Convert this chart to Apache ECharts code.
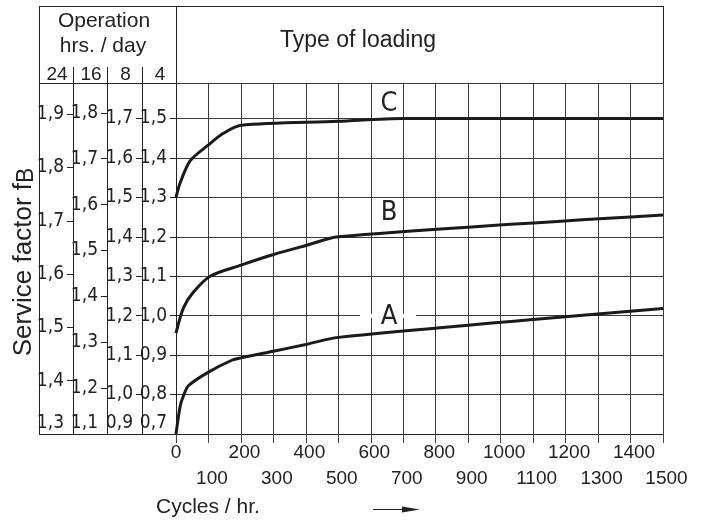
<!DOCTYPE html>
<html><head><meta charset="utf-8">
<script src="https://cdn.jsdelivr.net/npm/echarts@6/dist/echarts.min.js"></script>
<style>html,body{margin:0;padding:0;background:#fff}#c{width:704px;height:523px}</style>
</head><body><div id="c"></div>
<script>
// ---- data ----
const hoursPerDay = ['24', '16', '8', '4'];
const scaleMin = [1.3, 1.1, 0.9, 0.7];          // bottom value of each service-factor column
const scaleMax = [1.9585, 1.865, 1.79, 1.59];   // value at the top edge of the grid
const scaleStep = 0.1;
const cyclesMin = 0, cyclesMax = 1500, cyclesStep = 100;
const loadTypes = ['A', 'B', 'C'];
const curveA = [[0,0.70],[13,0.771],[23,0.797],[39,0.823],[100,0.857],[172,0.887],[200,0.893],[300,0.910],[400,0.927],[500,0.945],[1500,1.018]];
const curveB = [[0,0.956],[23,1.02],[52,1.058],[105,1.10],[200,1.128],[300,1.155],[400,1.178],[500,1.20],[1500,1.255]];
const curveC = [[0,1.30],[13,1.337],[44,1.393],[100,1.433],[147,1.463],[200,1.483],[500,1.493],[700,1.50],[1500,1.50]];
const curves = [curveA, curveB, curveC];

// ---- styles ----
const NARROW = "'Liberation Sans Narrow','DejaVu Sans Condensed','Liberation Sans',sans-serif";
const SANS = "'Liberation Sans',Arial,sans-serif";
const INK = '#222';
const GRIDC = '#3a3a3a';
const L = 176, R = 663, T = 83, B = 434, BOXL = 39, BOXT = 6;
const colOffsets = [103, 69, 34, 0];

const chart = echarts.init(document.getElementById('c'), null, {renderer: 'canvas'});

function colAxis(i) {
  return {
    type: 'value', position: 'left', offset: colOffsets[i],
    min: scaleMin[i], max: scaleMax[i], interval: scaleStep,
    axisLine: {show: true, onZero: false, lineStyle: {color: INK, width: 1}},
    axisTick: {show: true, length: 6, lineStyle: {color: INK, width: 1}},
    splitLine: {show: i === 3, lineStyle: {color: GRIDC, width: 1}},
    axisLabel: {
      margin: 9, showMinLabel: true, showMaxLabel: false, color: INK,
      fontFamily: NARROW, fontSize: 19,
      formatter: function (v) {
        const s = v.toFixed(1).replace('.', ',');
        return Math.abs(v - scaleMin[i]) < 1e-6 ? '{b|' + s + '}' : s;
      },
      rich: {b: {padding: [0, 0, 22, 0], fontFamily: NARROW, fontSize: 19, color: INK}}
    }
  };
}

const option = {
  animation: false,
  backgroundColor: '#fff',
  grid: {left: L, right: 704 - R, top: T, bottom: 523 - B, containLabel: false},
  xAxis: {
    type: 'value', min: cyclesMin, max: cyclesMax, interval: cyclesStep,
    axisLine: {onZero: false, lineStyle: {color: INK, width: 1}},
    axisTick: {length: 9, lineStyle: {color: '#444'}},
    splitLine: {show: true, lineStyle: {color: GRIDC, width: 1}},
    axisLabel: {
      margin: 9, color: INK, fontFamily: SANS, fontSize: 19,
      formatter: function (v) {
        const k = Math.round(v / cyclesStep);
        if (k === 0) return '{z|' + v + '}';
        return (k % 2 ? '{o|' : '{e|') + v + '}';
      },
      rich: {
        z: {fontFamily: SANS, fontSize: 19, color: INK},
        e: {fontFamily: SANS, fontSize: 19, color: INK, padding: [0, 0, 0, 7]},
        o: {fontFamily: SANS, fontSize: 19, color: INK, padding: [26, 0, 0, 7]}
      }
    }
  },
  yAxis: [colAxis(3), colAxis(2), colAxis(1), colAxis(0)],
  series: curves.map((d, i) => ({
    name: loadTypes[i], type: 'line', xAxisIndex: 0, yAxisIndex: 0,
    data: d, showSymbol: false, symbol: 'none', smooth: 0.3,
    lineStyle: {color: '#1a1a1a', width: 3}, z: 5
  }))
};
chart.setOption(option);

function ln(x1, y1, x2, y2) {
  return {type: 'line', shape: {x1, y1, x2, y2}, style: {stroke: INK, lineWidth: 1}, silent: true, z: 10};
}
function txt(text, x, y, size, family, align, extra) {
  return Object.assign({type: 'text', x, y, silent: true, z: 10,
    style: {text, fontSize: size, fontFamily: family, fill: INK, align: align || 'center', verticalAlign: 'middle'}}, extra || {});
}
const g = [];
// frame
g.push(ln(BOXL, BOXT + 0.5, R, BOXT + 0.5));
g.push(ln(BOXL + 0.5, BOXT, BOXL + 0.5, B));
g.push(ln(BOXL, B + 0.5, L, B + 0.5));
g.push(ln(BOXL, T + 0.5, L, T + 0.5));
g.push(ln(L + 0.5, BOXT, L + 0.5, T));
g.push(ln(R + 0.5, BOXT, R + 0.5, T));
[1, 2, 3].forEach(i => { const x = L - colOffsets[i - 1] + 0.5; g.push(ln(x, 67, x, T)); });
// header texts
g.push(txt('Operation', 104, 21, 21, SANS));
g.push(txt('hrs. / day', 103, 46, 21, SANS));
g.push(txt('Type of loading', 358, 41, 23, SANS));
hoursPerDay.forEach((h, i) => {
  const right = L - colOffsets[i];
  const left = i === 0 ? BOXL : L - colOffsets[i - 1];
  g.push(txt(h, (left + right) / 2 + 1, 75, 19, SANS));
});
// y title
g.push({type: 'text', x: 24, y: 262, rotation: Math.PI / 2, silent: true, z: 10,
  style: {text: 'Service factor f{s|B}', fontSize: 26, fontFamily: SANS, fill: INK, align: 'center', verticalAlign: 'middle',
    rich: {s: {fontSize: 23, fontFamily: SANS, fill: INK, padding: [6, 0, 0, 0]}}}});
// x title + arrow
g.push(txt('Cycles / hr.', 156, 507, 21, SANS, 'left'));
g.push({type: 'line', shape: {x1: 373, y1: 509.5, x2: 406, y2: 509.5}, style: {stroke: INK, lineWidth: 1.2}, silent: true});
g.push({type: 'polygon', shape: {points: [[402, 506.5], [420, 509.5], [402, 512.5]]}, style: {fill: INK}, silent: true});
// curve labels
const labelAt = {A: [650, 0.998], B: [650, 1.262], C: [650, 1.539]};
loadTypes.forEach(k => {
  const p = chart.convertToPixel({xAxisIndex: 0, yAxisIndex: 0}, labelAt[k]);
  if (k === 'A') {
    const gy = chart.convertToPixel({xAxisIndex: 0, yAxisIndex: 0}, [650, 1.0])[1];
    g.push({type: 'rect', shape: {x: p[0] - 27, y: gy - 2, width: 56, height: 4}, style: {fill: '#fff'}, silent: true, z: 4});
  }
  g.push(txt(k, p[0] + 2, p[1] + 1, 27, NARROW));
});
chart.setOption({graphic: g});
</script></body></html>
